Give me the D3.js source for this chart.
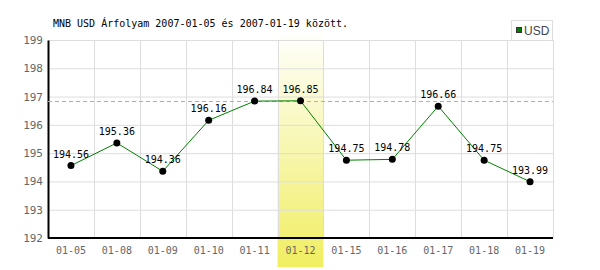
<!DOCTYPE html>
<html>
<head>
<meta charset="utf-8">
<script src="https://cdn.jsdelivr.net/npm/d3@7"></script>
<style>
  body { margin: 0; background: #fff; }
  text { font-family: "DejaVu Sans Mono", monospace; }
</style>
</head>
<body>
<div id="chart"></div>
<script>
// data
var dates = ["01-05", "01-08", "01-09", "01-10", "01-11", "01-12", "01-15", "01-16", "01-17", "01-18", "01-19"];
var rates = [194.56, 195.36, 194.36, 196.16, 196.84, 196.85, 194.75, 194.78, 196.66, 194.75, 193.99];
var yTicks = [192, 193, 194, 195, 196, 197, 198, 199];
var highlightDate = "01-12";
var currency = "USD";
var titleText = "MNB USD Árfolyam 2007-01-05 és 2007-01-19 között.";

var width = 600,
    height = 270,
    margin = {top: 40, right: 47, bottom: 32, left: 48};

var svg = d3.select("#chart").append("svg")
    .attr("width", width)
    .attr("height", height);

var x = d3.scaleBand()
    .domain(dates)
    .range([margin.left, width - margin.right]);

var y = d3.scaleLinear()
    .domain([192, 199])
    .range([height - margin.bottom, margin.top]);

// yellow gradient for highlighted day
var grad = svg.append("defs").append("linearGradient")
    .attr("id", "hl")
    .attr("x1", 0).attr("y1", 0).attr("x2", 0).attr("y2", 1);
grad.append("stop").attr("offset", "0%").attr("stop-color", "#ffffff");
grad.append("stop").attr("offset", "100%").attr("stop-color", "#f0ee60");

svg.append("rect")
    .attr("x", x(highlightDate))
    .attr("y", 30)
    .attr("width", x.bandwidth())
    .attr("height", height - 3 - 30)
    .attr("fill", "url(#hl)");

// grid
svg.append("g").selectAll("line")
    .data(yTicks)
    .enter().append("line")
    .attr("x1", margin.left).attr("x2", width - margin.right)
    .attr("y1", function(d) { return y(d) + 0.5; })
    .attr("y2", function(d) { return y(d) + 0.5; })
    .attr("stroke", "#dddddd");

svg.append("g").selectAll("line")
    .data(dates.slice(1).concat(["end"]))
    .enter().append("line")
    .attr("x1", function(d) { return Math.round(d == "end" ? width - margin.right : x(d)) + 0.5; })
    .attr("x2", function(d) { return Math.round(d == "end" ? width - margin.right : x(d)) + 0.5; })
    .attr("y1", margin.top).attr("y2", height - margin.bottom)
    .attr("stroke", "#dddddd");

// axes
var xAxis = svg.append("g")
    .attr("transform", "translate(0," + (height - margin.bottom) + ")")
    .call(d3.axisBottom(x).tickSize(0).tickPadding(9));
xAxis.select(".domain").attr("stroke", "#000").attr("stroke-width", 2).attr("d", "M" + margin.left + ",0H" + (width - margin.right));
xAxis.selectAll("text").attr("fill", "#666").style("font-size", "10px").style("font-family", "DejaVu Sans Mono");

var yAxis = svg.append("g")
    .attr("transform", "translate(" + margin.left + ",0)")
    .call(d3.axisLeft(y).tickValues(yTicks).tickSize(0).tickPadding(5).tickFormat(d3.format("d")));
yAxis.select(".domain").attr("stroke", "#000").attr("stroke-width", 2);
yAxis.selectAll("text").attr("fill", "#666").style("font-size", "11px").style("font-family", "DejaVu Sans Mono");

// max line
var maxRate = d3.max(rates);
svg.append("line")
    .attr("x1", margin.left).attr("x2", width - margin.right)
    .attr("y1", Math.round(y(maxRate)) + 0.5).attr("y2", Math.round(y(maxRate)) + 0.5)
    .attr("stroke", "#92c492")
    .attr("stroke-dasharray", "4,3");

// line + points
var pts = dates.map(function(d, i) { return {date: d, rate: rates[i]}; });
var cx = function(d) { return x(d.date) + x.bandwidth() / 2; };

svg.append("path")
    .datum(pts)
    .attr("fill", "none")
    .attr("stroke", "#008000")
    .attr("stroke-width", 1)
    .attr("d", d3.line().x(cx).y(function(d) { return y(d.rate); }));

svg.append("g").selectAll("circle")
    .data(pts)
    .enter().append("circle")
    .attr("cx", cx)
    .attr("cy", function(d) { return y(d.rate); })
    .attr("r", 3.5)
    .attr("fill", "#000");

svg.append("g").selectAll("text")
    .data(pts)
    .enter().append("text")
    .attr("x", cx)
    .attr("y", function(d) { return y(d.rate) - 8; })
    .attr("text-anchor", "middle")
    .style("font-size", "10px")
    .attr("fill", "#000")
    .text(function(d) { return d.rate.toFixed(2); });

// title
svg.append("text")
    .attr("x", 53)
    .attr("y", 27)
    .style("font-size", "10px")
    .attr("fill", "#000")
    .text(titleText);

// legend
var leg = svg.append("g");
leg.append("rect")
    .attr("x", 511.5).attr("y", 20.5)
    .attr("width", 41).attr("height", 20)
    .attr("fill", "#fff").attr("stroke", "#dddddd");
leg.append("rect")
    .attr("x", 516.5).attr("y", 27.5)
    .attr("width", 5).attr("height", 5)
    .attr("fill", "#008000").attr("stroke", "#333");
leg.append("text")
    .attr("x", 524).attr("y", 35)
    .style("font-family", "Liberation Sans Narrow, Liberation Sans, sans-serif")
    .style("font-size", "12px")
    .attr("fill", "#444")
    .text(currency);
</script>
</body>
</html>
